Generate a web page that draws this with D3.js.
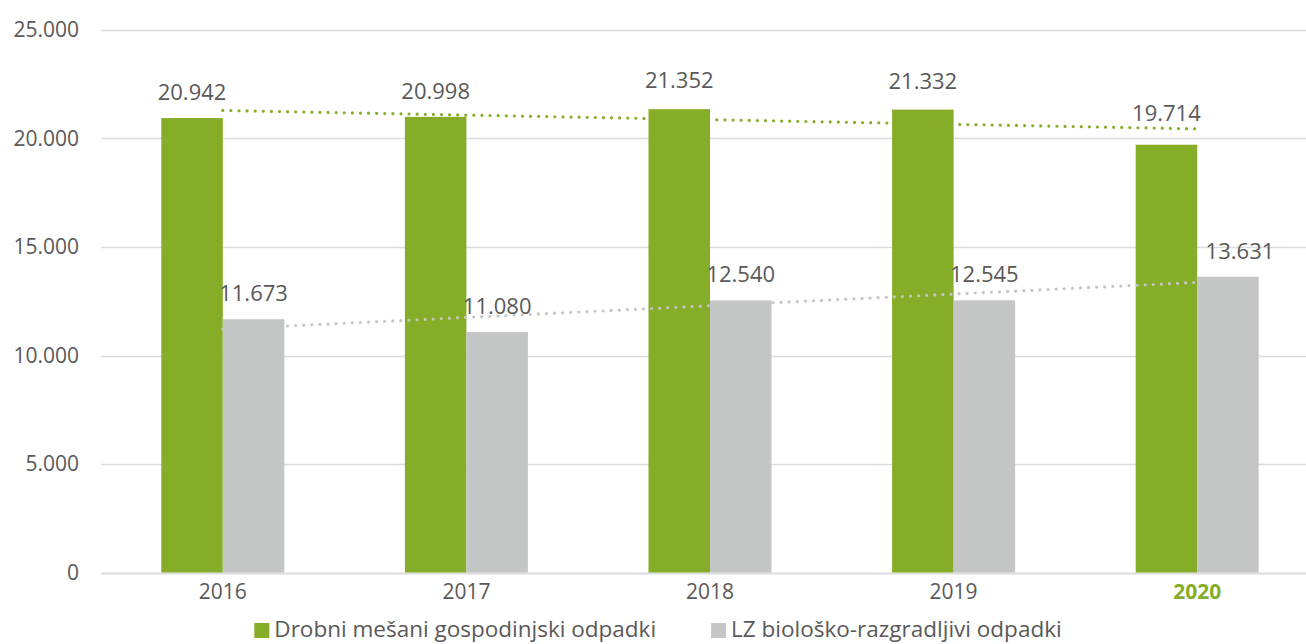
<!DOCTYPE html>
<html lang="sl">
<head>
<meta charset="UTF-8">
<title>Odpadki</title>
<script src="https://cdn.jsdelivr.net/npm/d3@7"></script>
<style>
  html, body { margin: 0; padding: 0; background: #fff; }
  svg { display: block; font-family: "Open Sans", "Noto Sans", sans-serif; }
</style>
</head>
<body>
<div id="chart"></div>
<script>
// data
const years = ['2016', '2017', '2018', '2019', '2020']
const mixedWaste = [20942, 20998, 21352, 21332, 19714]
const bioWaste = [11673, 11080, 12540, 12545, 13631]
const yTicks = [0, 5000, 10000, 15000, 20000, 25000]
const seriesNames = ['Drobni mešani gospodinjski odpadki', 'LZ biološko-razgradljivi odpadki']

// constants
const WIDTH = 1306
const HEIGHT = 644
const GREEN = '#86ad27'
const GREY = '#c4c6c5'
const TEXT = '#595959'
const GRID = '#dcdce0'

const locale = d3.formatLocale({ decimal: ',', thousands: '.', grouping: [3], currency: ['', ''] })
const fmt = locale.format(',d')

const svg = d3.select('#chart').append('svg')
  .attr('width', WIDTH)
  .attr('height', HEIGHT)

const x = d3.scaleBand()
  .domain(years)
  .range([101, 1319])
  .paddingInner(0)
  .paddingOuter(0)

const barW = x.bandwidth() * 0.2525

const y = d3.scaleLinear()
  .domain([0, 25000])
  .range([572.5, 30])

// grid
svg.append('g')
  .selectAll('line')
  .data(yTicks)
  .join('line')
  .attr('x1', 101)
  .attr('x2', WIDTH)
  .attr('y1', d => Math.round(y(d)) + 0.5)
  .attr('y2', d => Math.round(y(d)) + 0.5)
  .attr('stroke', GRID)
  .attr('stroke-width', d => d === 0 ? 2 : 1.5)

// y axis labels
const yAxis = svg.append('g')
  .attr('transform', 'translate(79,0)')
  .call(d3.axisLeft(y).tickValues(yTicks).tickFormat(fmt).tickSize(0).tickPadding(0))
yAxis.select('.domain').remove()
yAxis.selectAll('text')
  .attr('fill', TEXT)
  .attr('font-size', 21)
  .attr('font-family', '"Open Sans", sans-serif')

// x axis labels
const xAxis = svg.append('g')
  .attr('transform', 'translate(0,584)')
  .call(d3.axisBottom(x).tickSize(0).tickPadding(0))
xAxis.select('.domain').remove()
xAxis.selectAll('text')
  .attr('fill', d => d === '2020' ? GREEN : TEXT)
  .attr('font-weight', d => d === '2020' ? 'bold' : 'normal')
  .attr('font-size', 21)
  .attr('font-family', '"Open Sans", sans-serif')

// bars
const series = [
  { name: seriesNames[0], values: mixedWaste, color: GREEN, off: -barW },
  { name: seriesNames[1], values: bioWaste, color: GREY, off: 0 }
]

series.forEach(s => {
  svg.append('g')
    .selectAll('rect')
    .data(s.values)
    .join('rect')
    .attr('x', (d, i) => x(years[i]) + x.bandwidth() / 2 + s.off)
    .attr('y', d => y(d))
    .attr('width', barW)
    .attr('height', d => y(0) - y(d))
    .attr('fill', s.color)
})

// linear trendlines
function trend(vals) {
  const n = vals.length
  const mx = d3.mean(vals, (d, i) => i)
  const my = d3.mean(vals)
  const slope = d3.sum(vals, (d, i) => (i - mx) * (d - my)) / d3.sum(vals, (d, i) => (i - mx) ** 2)
  return [0, n - 1].map(i => [i, my + slope * (i - mx)])
}

const trendLine = d3.line()
  .x(d => x(years[d[0]]) + x.bandwidth() / 2)
  .y(d => y(d[1]))

series.forEach(s => {
  svg.append('path')
    .attr('d', trendLine(trend(s.values)))
    .attr('fill', 'none')
    .attr('stroke', s.color)
    .attr('stroke-width', 3.2)
    .attr('stroke-linecap', 'round')
    .attr('stroke-dasharray', '0 8.1')
})

// value labels
const nudges = [
  [[0, 0], [0, 0], [0, -3], [0, -3], [0, -6]],
  [[0, 0], [0, 0], [0, 0], [0, 0], [12, 0]]
]

series.forEach((s, si) => {
  svg.append('g')
    .selectAll('text')
    .data(s.values)
    .join('text')
    .attr('x', (d, i) => x(years[i]) + x.bandwidth() / 2 + s.off + barW / 2 + nudges[si][i][0])
    .attr('y', d => y(d) - 18)
    .attr('dy', (d, i) => nudges[si][i][1])
    .attr('text-anchor', 'middle')
    .attr('fill', TEXT)
    .attr('font-size', 22)
    .text(d => fmt(d))
})

// legend
const legend = svg.append('g')
const items = legend.selectAll('g')
  .data(series)
  .join('g')

items.append('rect')
  .attr('width', 15)
  .attr('height', 15)
  .attr('y', 623)
  .attr('fill', d => d.color)

items.append('text')
  .attr('x', 20)
  .attr('y', 637)
  .attr('fill', TEXT)
  .attr('font-size', 22.5)
  .text(d => d.name)

let cursor = 0
items.each(function () {
  const g = d3.select(this)
  g.attr('transform', `translate(${cursor},0)`)
  cursor += 20 + g.select('text').node().getComputedTextLength() + 55
})
const total = cursor - 55
legend.attr('transform', `translate(${658 - total / 2},0)`)
</script>
</body>
</html>
